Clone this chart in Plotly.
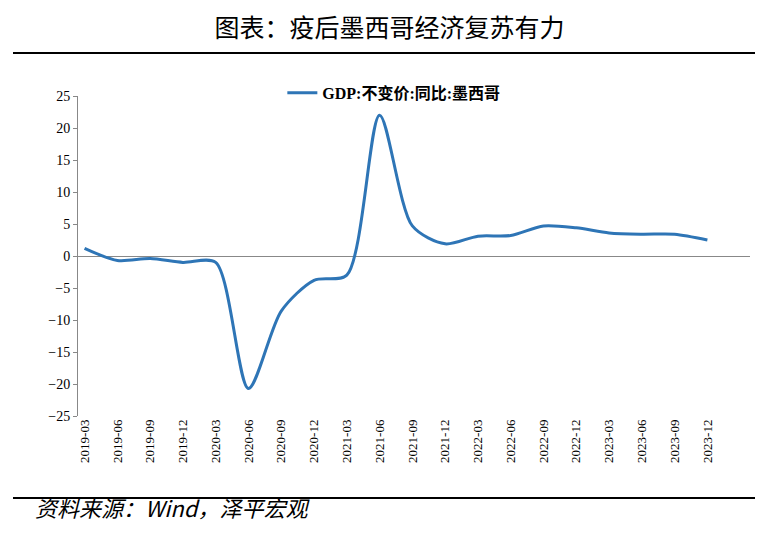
import plotly.graph_objects as go

quarters = ["2019-03", "2019-06", "2019-09", "2019-12", "2020-03", "2020-06", "2020-09", "2020-12",
            "2021-03", "2021-06", "2021-09", "2021-12", "2022-03", "2022-06", "2022-09", "2022-12",
            "2023-03", "2023-06", "2023-09", "2023-12"]
gdp_yoy = [1.2, -0.7, -0.4, -1.0, -1.0, -20.7, -8.6, -3.8,
           -3.0, 22.0, 4.7, 1.9, 3.1, 3.2, 4.7, 4.4,
           3.6, 3.4, 3.4, 2.5]

W, H = 763, 534
fig = go.Figure()
fig.add_trace(go.Scatter(
    x=list(range(len(quarters))), y=gdp_yoy, mode="lines",
    line=dict(color="#2E75B6", width=3, shape="spline", smoothing=0.8),
    name="<b>GDP:不变价:同比:墨西哥</b>",
))

fig.update_layout(
    width=W, height=H,
    margin=dict(l=70, r=21, t=88, b=126, autoexpand=False),
    plot_bgcolor="white", paper_bgcolor="white",
    font=dict(family="Liberation Serif, Noto Sans CJK SC", size=14, color="black"),
    showlegend=True,
    legend=dict(orientation="h", x=0.47, xanchor="center", y=1.01, yanchor="middle",
                bgcolor="rgba(0,0,0,0)",
                font=dict(size=16, family="Liberation Serif, Noto Sans CJK SC")),
    title=dict(text="图表：疫后墨西哥经济复苏有力", x=0.5, xanchor="center",
               y=1 - 20 / H, yanchor="middle", yref="container",
               font=dict(size=25, family="Noto Sans CJK SC")),
    xaxis=dict(
        tickmode="array", tickvals=list(range(len(quarters))), ticktext=quarters,
        tickangle=-90, range=[-0.2, 20.3], showgrid=False, zeroline=False,
        showline=False, ticks="", tickfont=dict(size=13), automargin=False,
    ),
    yaxis=dict(
        range=[-25, 25], dtick=5, showgrid=False, zeroline=True,
        zerolinecolor="#888888", zerolinewidth=1, showline=True, linecolor="#888888",
        ticks="outside", ticklen=4, tickcolor="#888888", tickfont=dict(size=14),
        automargin=False,
    ),
    shapes=[
        dict(type="line", xref="paper", yref="paper", x0=-65 / 672, x1=(758 - 70) / 672,
             y0=1 + (88 - 45) / 320, y1=1 + (88 - 45) / 320, line=dict(color="black", width=2)),
        dict(type="line", xref="paper", yref="paper", x0=-65 / 672, x1=(758 - 70) / 672,
             y0=-(490 - 408) / 320, y1=-(490 - 408) / 320, line=dict(color="black", width=2)),
    ],
    annotations=[
        dict(text="<i>资料来源：Wind，泽平宏观</i>", xref="paper", yref="paper",
             x=-45 / 672, xanchor="left", y=-(517 - 408) / 320, showarrow=False,
             font=dict(size=22, family="Noto Sans CJK SC")),
    ],
)

fig.write_html("out.html")
